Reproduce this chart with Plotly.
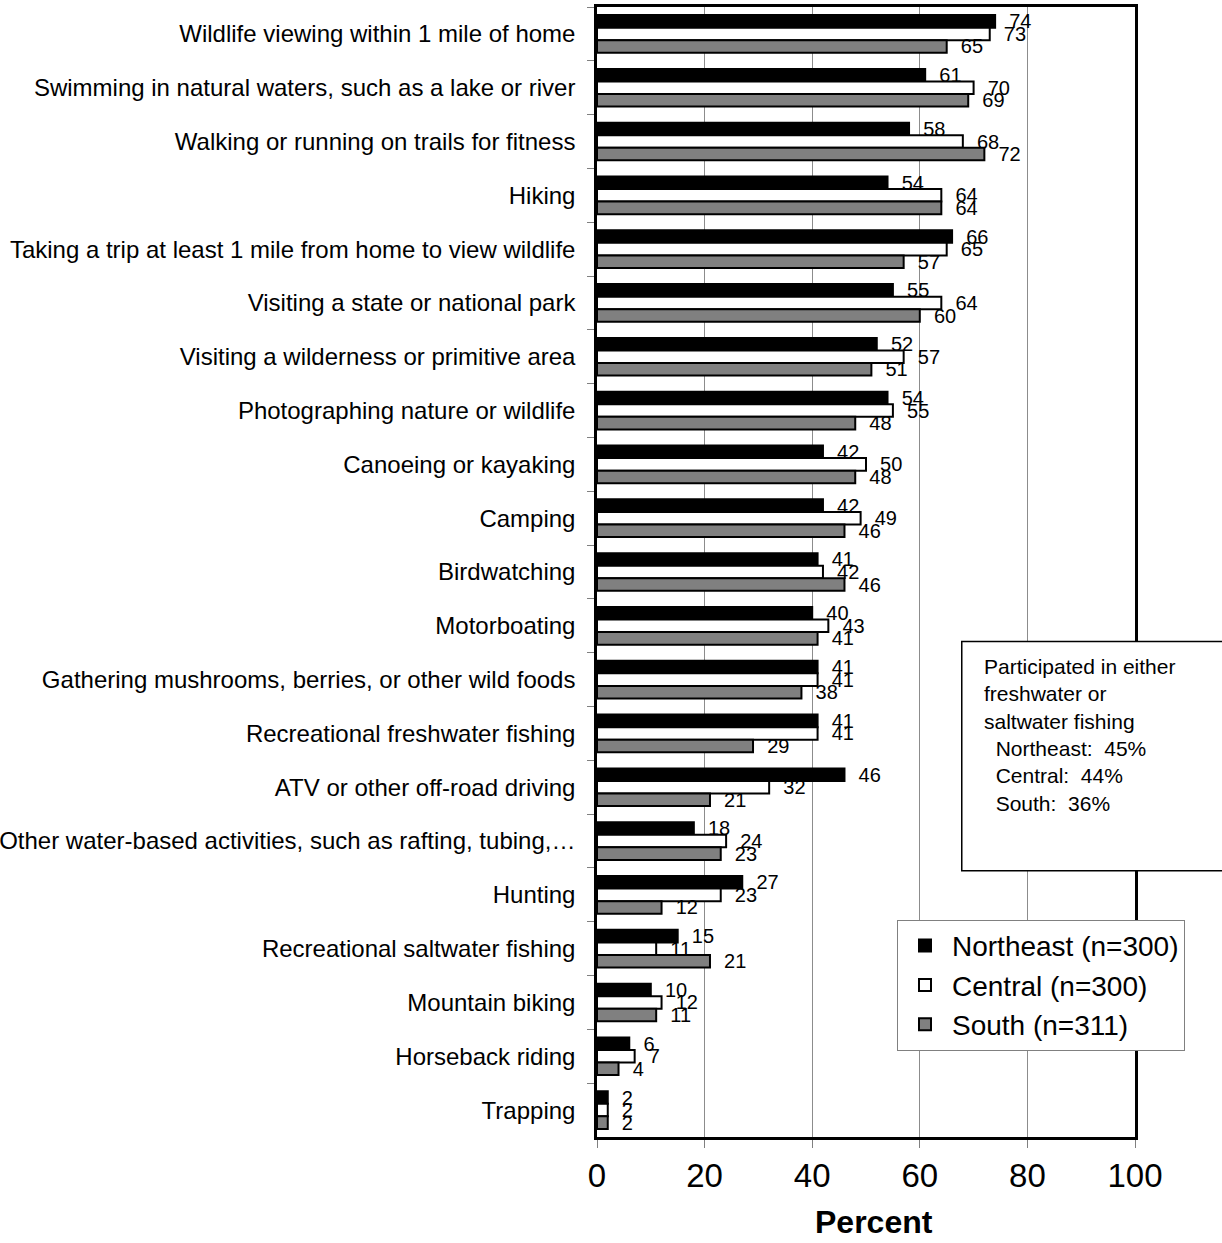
import plotly.graph_objects as go

activities = [
    "Wildlife viewing within 1 mile of home",
    "Swimming in natural waters, such as a lake or river",
    "Walking or running on trails for fitness",
    "Hiking",
    "Taking a trip at least 1 mile from home to view wildlife",
    "Visiting a state or national park",
    "Visiting a wilderness or primitive area",
    "Photographing nature or wildlife",
    "Canoeing or kayaking",
    "Camping",
    "Birdwatching",
    "Motorboating",
    "Gathering mushrooms, berries, or other wild foods",
    "Recreational freshwater fishing",
    "ATV or other off-road driving",
    "Other water-based activities, such as rafting, tubing,\u2026",
    "Hunting",
    "Recreational saltwater fishing",
    "Mountain biking",
    "Horseback riding",
    "Trapping",
]

northeast = [74, 61, 58, 54, 66, 55, 52, 54, 42, 42, 41, 40, 41, 41, 46, 18, 27, 15, 10, 6, 2]
central = [73, 70, 68, 64, 65, 64, 57, 55, 50, 49, 42, 43, 41, 41, 32, 24, 23, 11, 12, 7, 2]
south = [65, 69, 72, 64, 57, 60, 51, 48, 48, 46, 46, 41, 38, 29, 21, 23, 12, 21, 11, 4, 2]

series_names = ["Northeast (n=300)", "Central (n=300)", "South (n=311)"]
series_values = [northeast, central, south]
series_colors = ["#000000", "#ffffff", "#808080"]

x_ticks = [0, 20, 40, 60, 80, 100]

fishing_note = [
    "Participated in either",
    "freshwater or",
    "saltwater fishing",
    "\u00a0\u00a0Northeast:\u00a0\u00a045%",
    "\u00a0\u00a0Central:\u00a0\u00a044%",
    "\u00a0\u00a0South:\u00a0\u00a036%",
]

FONT = "Liberation Sans, Arial, sans-serif"

fig = go.Figure()
for name, vals, color in zip(series_names, series_values, series_colors):
    fig.add_trace(go.Bar(
        name=name,
        y=activities,
        x=vals,
        orientation="h",
        marker=dict(color=color, line=dict(color="#000000", width=2)),
        # value labels sit a little to the right of each bar end
        text=["\u00a0\u00a0" + str(v) for v in vals],
        textposition="outside",
        constraintext="none",
        cliponaxis=False,
        textfont=dict(family=FONT, size=20, color="#000000"),
    ))

fig.update_layout(
    width=1222,
    height=1243,
    barmode="group",
    bargap=0.3,
    bargroupgap=0,
    plot_bgcolor="#ffffff",
    paper_bgcolor="#ffffff",
    font=dict(family=FONT, color="#000000"),
    margin=dict(l=597, r=87, t=7, b=106),
    showlegend=True,
    legend=dict(
        x=0.5576, y=0.1922, xanchor="left", yanchor="top",
        bgcolor="#ffffff", bordercolor="#808080", borderwidth=1,
        font=dict(family=FONT, size=28, color="#000000"),
        traceorder="normal",
        itemwidth=44,
    ),
    xaxis=dict(
        range=[0, 100],
        tickvals=x_ticks,
        ticktext=[str(t) for t in x_ticks],
        tickfont=dict(family=FONT, size=33, color="#000000"),
        showgrid=True, gridcolor="#8c8c8c", gridwidth=1,
        zeroline=False,
        showline=True, linecolor="#000000", linewidth=2.5, mirror=True,
        ticks="outside", ticklen=8, tickcolor="#808080",
        automargin=False,
    ),
    yaxis=dict(
        autorange="reversed",
        tickfont=dict(family=FONT, size=24, color="#000000"),
        showline=True, linecolor="#000000", linewidth=2.5, mirror=True,
        ticks="outside", ticklen=7, tickcolor="#808080", tickson="boundaries",
        showgrid=False,
        ticklabelstandoff=14,
        automargin=False,
    ),
    shapes=[dict(
        type="rect", xref="paper", yref="paper",
        x0=0.678, x1=1.2, y0=0.2356, y1=0.4384,
        fillcolor="#ffffff", line=dict(color="#000000", width=1.5),
        layer="above",
    )],
    annotations=[
        dict(
            text="<br>".join(fishing_note),
            xref="paper", yref="paper", x=0.7156, y=0.428,
            xanchor="left", yanchor="top", align="left", showarrow=False,
            font=dict(family=FONT, size=21, color="#000000"),
        ),
        dict(
            text="<b>Percent</b>",
            xref="paper", yref="paper", x=0.515, y=-0.075,
            xanchor="center", yanchor="middle", showarrow=False,
            font=dict(family=FONT, size=32, color="#000000"),
        ),
    ],
)

fig.write_html("out.html")
